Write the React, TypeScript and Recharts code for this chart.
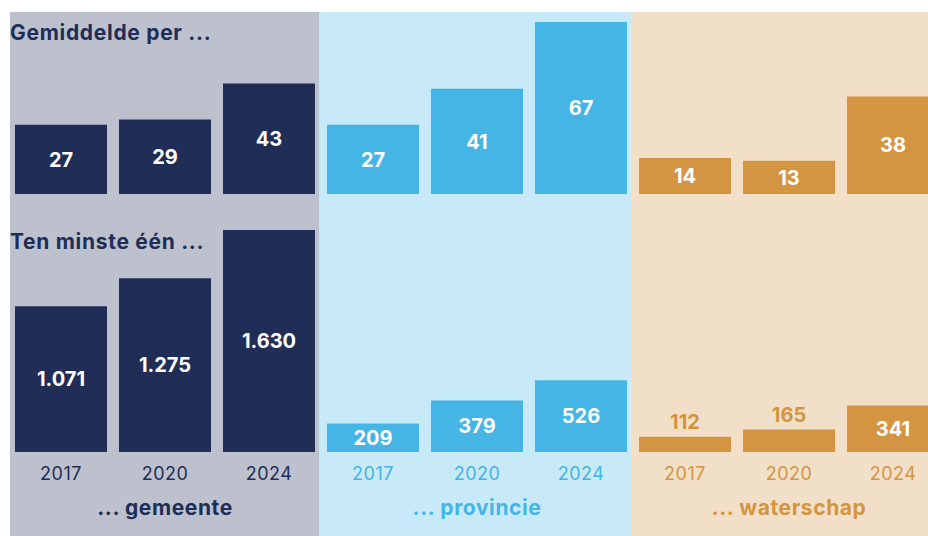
import { BarChart, Bar, XAxis, YAxis, LabelList } from 'recharts'

const years = ['2017', '2020', '2024']
const gemeenteGemiddeld = [27, 29, 43]
const provincieGemiddeld = [27, 41, 67]
const waterschapGemiddeld = [14, 13, 38]
const gemeenteMinstens = [1071, 1275, 1630]
const provincieMinstens = [209, 379, 526]
const waterschapMinstens = [112, 165, 341]
const panelTitles = ['... gemeente', '... provincie', '... waterschap']
const rowTitles = ['Gemiddelde per ...', 'Ten minste één ...']

const FONT = 'Inter, "Noto Sans", sans-serif'

const panels = [
  { title: panelTitles[0], top: gemeenteGemiddeld, bottom: gemeenteMinstens, bar: '#202d57', bg: '#bcc1cd', text: '#202d57', left: 10, width: 309, plotLeft: 9 },
  { title: panelTitles[1], top: provincieGemiddeld, bottom: provincieMinstens, bar: '#44b5e5', bg: '#c8e9f8', text: '#44b5e5', left: 319, width: 312, plotLeft: 321 },
  { title: panelTitles[2], top: waterschapGemiddeld, bottom: waterschapMinstens, bar: '#d39541', bg: '#f2dfc8', text: '#d39541', left: 631, width: 297, plotLeft: 633 },
]

const fmt = (v: number) => String(v).replace(/\B(?=(\d{3})+(?!\d))/g, '.')

function makeLabel(outside: string) {
  return (props: any) => {
    const { x, y, width, height, value } = props
    const inside = height >= 25
    return (
      <text
        x={x + width / 2}
        y={inside ? y + height / 2 : y - 8}
        dy={inside ? '0.36em' : 0}
        textAnchor="middle"
        fill={inside ? '#ffffff' : outside}
        fontSize={20}
        fontWeight={700}
        fontFamily={FONT}
      >
        {fmt(value)}
      </text>
    )
  }
}

export default function App() {
  return (
    <div style={{ position: 'absolute', left: 0, top: 0, width: 928, height: 536, overflow: 'hidden', background: '#fff' }}>
      {panels.map((p) => (
        <div key={p.title} style={{ position: 'absolute', left: p.left, top: 12, width: p.width, height: 524, background: p.bg }} />
      ))}
      {panels.map((p) => {
        const topData = years.map((y, i) => ({ year: y, value: p.top[i] }))
        const bottomData = years.map((y, i) => ({ year: y, value: p.bottom[i] }))
        return (
          <div key={p.title + 'c'}>
            <div style={{ position: 'absolute', left: p.plotLeft, top: 22 }}>
              <BarChart width={312} height={172} data={topData} margin={{ top: 0, right: 0, bottom: 0, left: 0 }} barSize={92}>
                <XAxis dataKey="year" hide />
                <YAxis hide domain={[0, 67]} />
                <Bar dataKey="value" fill={p.bar} isAnimationActive={false}>
                  <LabelList dataKey="value" content={makeLabel(p.text)} />
                </Bar>
              </BarChart>
            </div>
            <div style={{ position: 'absolute', left: p.plotLeft, top: 230 }}>
              <BarChart width={312} height={292} data={bottomData} margin={{ top: 0, right: 0, bottom: 0, left: 0 }} barSize={92}>
                <XAxis
                  dataKey="year"
                  height={70}
                  axisLine={false}
                  tickLine={false}
                  tickMargin={9}
                  tick={{ fill: p.text, fontSize: 18, fontFamily: FONT, fontWeight: 400, letterSpacing: 0.5 }}
                  label={{ value: p.title, position: 'insideBottom', offset: 7, fill: p.text, fontSize: 21, fontWeight: 700, fontFamily: FONT, letterSpacing: 0.6 }}
                />
                <YAxis hide domain={[0, 1630]} />
                <Bar dataKey="value" fill={p.bar} isAnimationActive={false}>
                  <LabelList dataKey="value" content={makeLabel(p.text)} />
                </Bar>
              </BarChart>
            </div>
          </div>
        )
      })}
      <svg width={928} height={536} style={{ position: 'absolute', left: 0, top: 0, pointerEvents: 'none' }}>
        <text x={10} y={40} fill="#202d57" fontSize={21} fontWeight={700} fontFamily={FONT} letterSpacing={0.7}>{rowTitles[0]}</text>
        <text x={10} y={249} fill="#202d57" fontSize={21} fontWeight={700} fontFamily={FONT} letterSpacing={0.7}>{rowTitles[1]}</text>
      </svg>
    </div>
  )
}
